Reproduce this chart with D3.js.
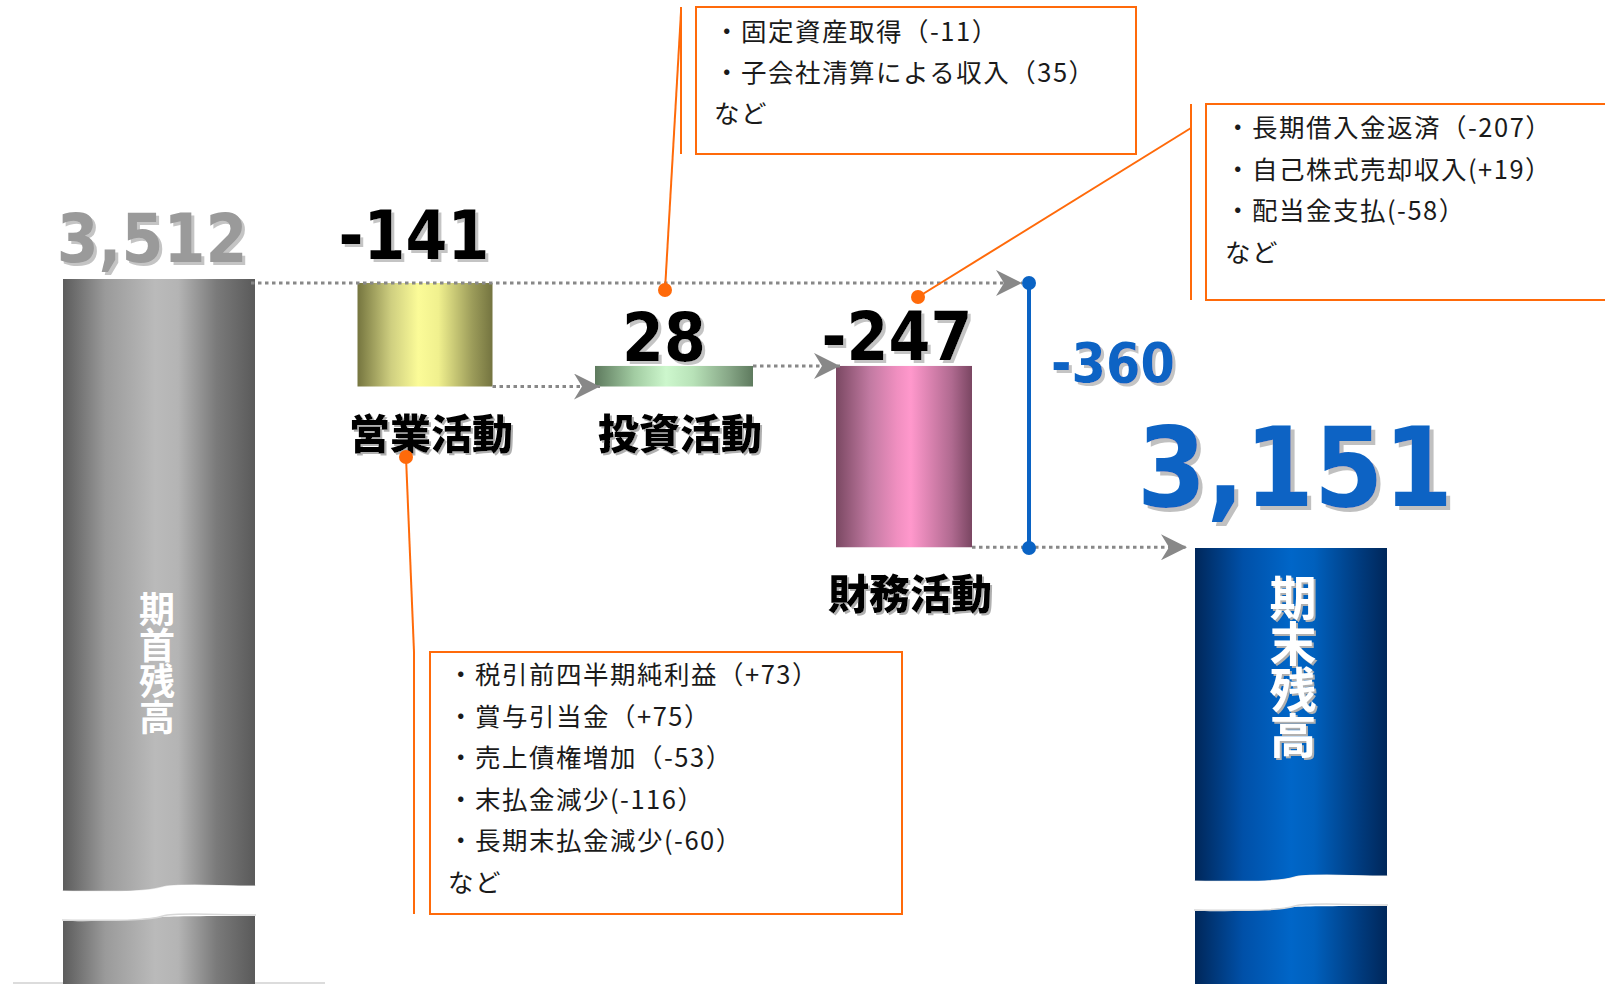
<!DOCTYPE html>
<html><head><meta charset="utf-8">
<script src="https://cdn.jsdelivr.net/npm/d3@7/dist/d3.min.js"></script>
<style>
html,body{margin:0;padding:0;background:#fff;}
svg{display:block;}
</style></head>
<body>
<svg id="chart" width="1605" height="984"></svg>
<script>
// ---------------- data ----------------
const categories = ["期首残高", "営業活動", "投資活動", "財務活動", "期末残高"];
const values = [3512, -141, 28, -247, 3151];
const valueLabels = ["3,512", "-141", "28", "-247", "3,151"];
const netChangeLabel = "-360";
const notesOperating = ["・税引前四半期純利益（+73）", "・賞与引当金（+75）", "・売上債権増加（-53）", "・末払金減少(-116）", "・長期末払金減少(-60）", "など"];
const notesInvesting = ["・固定資産取得（-11）", "・子会社清算による収入（35）", "など"];
const notesFinancing = ["・長期借入金返済（-207）", "・自己株式売却収入(+19）", "・配当金支払(-58）", "など"];

// ---------------- layout ----------------
const W = 1605, H = 984;
const svg = d3.select("#chart");
const defs = svg.append("defs");

const x = d3.scaleOrdinal().domain(categories).range([159, 425, 674, 904, 1291]);
const widths = d3.scaleOrdinal().domain(categories).range([192, 135, 158, 136, 192]);
const y = d3.scaleLinear().domain([3151, 3512]).range([548, 283]);

// waterfall levels
const bars = [];
let level = values[0];
categories.forEach((c, i) => {
  if (i === 0 || i === categories.length - 1) {
    bars.push({cat: c, top: values[i], bottom: null, total: true, i});
  } else {
    const from = level, to = level + values[i];
    bars.push({cat: c, top: Math.max(from, to), bottom: Math.min(from, to), from, to, total: false, i});
    level = to;
  }
});

// gradients
const grads = [
  ["g0", ["#5c5c5c", "#9a9a9a", "#bababa", "#b4b4b4", "#7a7a7a", "#5a5a5a"], [0, 0.22, 0.48, 0.6, 0.8, 1]],
  ["g1", ["#75753f", "#cfcf80", "#fbfb98", "#f0f08e", "#9c9c5a", "#747440"], [0, 0.25, 0.45, 0.6, 0.85, 1]],
  ["g2", ["#5e7a5e", "#a2cca2", "#cdf7cd", "#b8e2b8", "#86a686", "#5e7a5e"], [0, 0.25, 0.45, 0.62, 0.85, 1]],
  ["g3", ["#7a4862", "#c27aa2", "#f08fc0", "#ff98cc", "#b06a90", "#7a4662"], [0, 0.25, 0.45, 0.55, 0.85, 1]],
  ["g4", ["#00275a", "#0050a8", "#0066c8", "#0060bd", "#003c80", "#00275a"], [0, 0.25, 0.5, 0.62, 0.85, 1]],
];
grads.forEach(([id, cols, offs]) => {
  const g = defs.append("linearGradient").attr("id", id).attr("x1", 0).attr("x2", 1).attr("y1", 0).attr("y2", 0);
  cols.forEach((c, k) => g.append("stop").attr("offset", offs[k]).attr("stop-color", c));
});

// arrow marker
defs.append("marker").attr("id", "arr").attr("markerUnits", "userSpaceOnUse")
  .attr("markerWidth", 26).attr("markerHeight", 26).attr("refX", 26).attr("refY", 13)
  .attr("orient", "auto").attr("viewBox", "0 0 26 26")
  .append("path").attr("d", "M0,0 L26,13 L0,26 L8,13 Z").attr("fill", "#888");

// text shadow filters
function shadow(id, dx, col) {
  const f = defs.append("filter").attr("id", id).attr("x", "-10%").attr("y", "-10%").attr("width", "130%").attr("height", "140%");
  f.append("feOffset").attr("in", "SourceAlpha").attr("dx", dx).attr("dy", dx).attr("result", "o");
  f.append("feFlood").attr("flood-color", col);
  f.append("feComposite").attr("in2", "o").attr("operator", "in").attr("result", "s");
  const m = f.append("feMerge");
  m.append("feMergeNode").attr("in", "s");
  m.append("feMergeNode").attr("in", "SourceGraphic");
}
shadow("sh3", 3, "#c4c4c4");
shadow("sh4", 4, "#c0c0c0");
shadow("sh2", 2, "#b0b0b0");

// baseline faint line
svg.append("line").attr("x1", 13).attr("x2", 325).attr("y1", 983).attr("y2", 983)
  .attr("stroke", "#dcdcdc").attr("stroke-width", 2);

// bars
const gBars = svg.append("g");
bars.forEach(b => {
  const w = widths(b.cat), x0 = x(b.cat) - w / 2;
  const yTop = y(b.top) - (b.total && b.i === 0 ? 4 : 0);
  const yBot = b.total ? H : y(b.bottom);
  gBars.append("rect").attr("x", x0).attr("y", yTop).attr("width", w).attr("height", yBot - yTop)
    .attr("fill", `url(#g${b.i})`);
});

// break bands on total bars
function breakBand(cat, yb) {
  const w = widths(cat), x0 = x(cat) - w / 2, x1 = x0 + w;
  const gap = 30;
  const top = (o) => `M${x0 - 1},${yb + 5 + o} C${x0 + w * 0.35},${yb + 6 + o} ${x0 + w * 0.45},${yb + 5 + o} ${x0 + w * 0.52},${yb + 1 + o} S${x0 + w * 0.8},${yb + o} ${x1 + 1},${yb + o}`;
  const d = `M${x0 - 1},${yb + 5} C${x0 + w * 0.35},${yb + 6} ${x0 + w * 0.45},${yb + 5} ${x0 + w * 0.52},${yb + 1} S${x0 + w * 0.8},${yb} ${x1 + 1},${yb}` +
    ` L${x1 + 1},${yb + gap} C${x0 + w * 0.8},${yb + gap} ${x0 + w * 0.6},${yb + gap} ${x0 + w * 0.52},${yb + gap + 1} S${x0 + w * 0.35},${yb + gap + 6} ${x0 - 1},${yb + gap + 5} Z`;
  svg.append("path").attr("d", top(0)).attr("fill", "none").attr("stroke", "#e6e6e6").attr("stroke-width", 3).attr("transform", "translate(0,1)");
  svg.append("path").attr("d", d).attr("fill", "#fff");
  svg.append("path").attr("d", top(gap)).attr("fill", "none").attr("stroke", "#d8d8d8").attr("stroke-width", 1.5).attr("transform", "translate(0,-1)");
}
breakBand(categories[0], 886);
breakBand(categories[4], 876);

// dotted connectors
const dot = {stroke: "#888", "stroke-width": 3, "stroke-dasharray": "3.5 3.5", fill: "none"};
function conn(x1, y1, x2, y2, arrow) {
  const l = svg.append("line").attr("x1", x1).attr("y1", y1).attr("x2", x2).attr("y2", y2);
  Object.entries(dot).forEach(([k, v]) => l.attr(k, v));
  if (arrow) l.attr("marker-end", "url(#arr)");
}
const right = c => x(c) + widths(c) / 2, left = c => x(c) - widths(c) / 2;
conn(right(categories[0]) - 4, y(values[0]), 1022, y(values[0]), true);
conn(right(categories[1]), y(bars[1].to), left(categories[2]) + 5, y(bars[1].to), true);
conn(right(categories[2]), y(bars[2].to), left(categories[3]) + 4, y(bars[2].to), true);
conn(right(categories[3]), y(bars[3].to), left(categories[4]) - 8, y(bars[3].to), true);

// blue bracket for net change
const blue = "#0a63c4";
const bx = 1029;
svg.append("line").attr("x1", bx).attr("x2", bx).attr("y1", y(values[0])).attr("y2", y(values[4]))
  .attr("stroke", blue).attr("stroke-width", 4);
[values[0], values[4]].forEach(v => svg.append("circle").attr("cx", bx).attr("cy", y(v)).attr("r", 7).attr("fill", blue));
svg.append("text").attr("x", 1051).attr("y", 382).text(netChangeLabel)
  .attr("font-family", "'DejaVu Sans Condensed','DejaVu Sans',sans-serif").attr("font-weight", "bold")
  .attr("font-size", 55).attr("fill", blue).attr("filter", "url(#sh3)");

// value labels
const numFont = "'DejaVu Sans Condensed','DejaVu Sans',sans-serif";
const labelCfg = [
  {dx: -7, dy: -21, size: 67, fill: "#9a9a9a", f: "sh3"},
  {dx: -11, dy: -24, size: 67, fill: "#000", f: "sh3"},
  {dx: -10, dy: -5, size: 67, fill: "#000", f: "sh3"},
  {dx: -7, dy: -6, size: 67, fill: "#000", f: "sh3"},
  {dx: 4, dy: -42, size: 111, fill: blue, f: "sh4"},
];
bars.forEach((b, i) => {
  const c = labelCfg[i];
  svg.append("text").attr("x", x(b.cat) + c.dx).attr("y", y(b.top) + c.dy)
    .attr("text-anchor", "middle").text(valueLabels[i])
    .attr("font-family", numFont).attr("font-weight", "bold").attr("font-size", c.size)
    .attr("fill", c.fill).attr("filter", `url(#${c.f})`);
});

// category labels (below flow bars)
const jpFont = "'Noto Sans CJK JP','Noto Sans CJK SC',sans-serif";
bars.filter(b => !b.total).forEach(b => {
  svg.append("text").attr("x", x(b.cat) + 6).attr("y", y(b.bottom) + 62)
    .attr("text-anchor", "middle").text(b.cat)
    .attr("font-family", jpFont).attr("font-weight", 900).attr("font-size", 41)
    .attr("fill", "#000").attr("filter", "url(#sh2)");
});

// vertical labels inside total bars
function vlabel(cat, top, size, spacing, filt) {
  const t = svg.append("text").attr("x", x(cat) - 2 + (filt ? 4 : 0)).attr("y", top)
    .attr("writing-mode", "vertical-rl").attr("letter-spacing", spacing)
    .attr("font-family", jpFont).attr("font-weight", 700).attr("font-size", size).attr("fill", "#fff")
    .text(cat);
  if (filt) t.attr("filter", `url(#${filt})`);
}
vlabel(categories[0], 591, 36, 0, null);
vlabel(categories[4], 574, 47, -1, "sh2");

// annotation boxes
const orange = "#ff6a0a";
function note(lines, bxX, bxY, bw, bh, vx, tx, firstBase, lh, dotX, dotY, leadX, leadY) {
  svg.append("rect").attr("x", bxX).attr("y", bxY).attr("width", bw).attr("height", bh)
    .attr("fill", "none").attr("stroke", orange).attr("stroke-width", 2);
  svg.append("line").attr("x1", vx).attr("x2", vx).attr("y1", bxY).attr("y2", bxY + bh)
    .attr("stroke", orange).attr("stroke-width", 2);
  svg.append("line").attr("x1", dotX).attr("y1", dotY).attr("x2", leadX).attr("y2", leadY)
    .attr("stroke", orange).attr("stroke-width", 2);
  svg.append("circle").attr("cx", dotX).attr("cy", dotY).attr("r", 7).attr("fill", orange);
  const t = svg.append("text").attr("font-family", jpFont).attr("font-size", 25.5)
    .attr("letter-spacing", 1.5).attr("fill", "#1a1a1a");
  lines.forEach((s, k) => t.append("tspan").attr("x", tx).attr("y", firstBase + k * lh).text(s));
}
note(notesInvesting, 696, 7, 440, 147, 681, 714, 41, 41, 665, 290, 681, 12);
note(notesFinancing, 1206, 104, 420, 196, 1191, 1225, 137, 41.5, 918, 297, 1191, 128);
note(notesOperating, 430, 652, 472, 262, 414, 448, 684, 41.6, 406, 457, 414, 652);
</script>
</body></html>
